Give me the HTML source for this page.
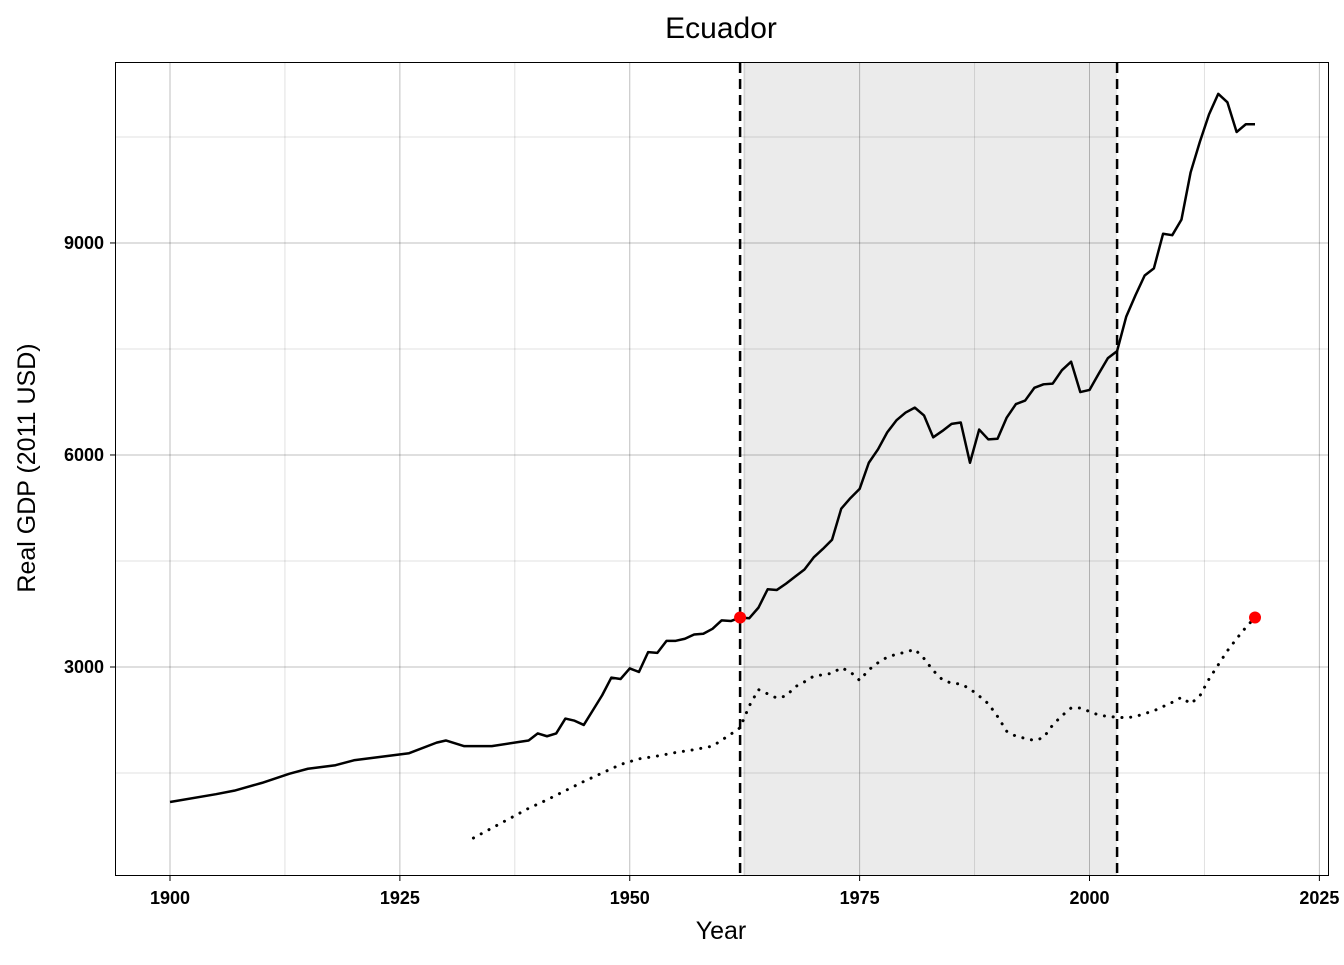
<!DOCTYPE html>
<html><head><meta charset="utf-8"><style>
body{margin:0;background:#fff;font-family:"Liberation Sans",Arial,sans-serif}
svg text{font-family:"Liberation Sans",Arial,sans-serif}
</style></head><body>
<svg id="chart" width="1344" height="960" xmlns="http://www.w3.org/2000/svg">
<rect width="1344" height="960" fill="#fff"/>
<text x="721" y="38" font-size="30" text-anchor="middle">Ecuador</text>
<g id="grid"></g><g id="marks"></g>
<rect x="115.5" y="62.5" width="1213" height="813" fill="none" stroke="#000" stroke-width="1"/>
<g id="axes"></g>
<text x="721" y="939" font-size="25" text-anchor="middle">Year</text>
<text transform="translate(35,468) rotate(-90)" font-size="25" text-anchor="middle">Real GDP (2011 USD)</text>
</svg>
<script>
const years=[1900,1905,1907,1910,1913,1915,1918,1920,1923,1926,1929,1930,1932,1935,1938,1939,1940,1941,1942,1943,1944,1945,1946,1947,1948,1949,1950,1951,1952,1953,1954,1955,1956,1957,1958,1959,1960,1961,1962,1963,1964,1965,1966,1967,1968,1969,1970,1971,1972,1973,1974,1975,1976,1977,1978,1979,1980,1981,1982,1983,1984,1985,1986,1987,1988,1989,1990,1991,1992,1993,1994,1995,1996,1997,1998,1999,2000,2001,2002,2003,2004,2005,2006,2007,2008,2009,2010,2011,2012,2013,2014,2015,2016,2017,2018];
const gdp=[1090,1200,1250,1360,1490,1560,1610,1680,1730,1780,1930,1960,1880,1880,1940,1960,2060,2020,2060,2270,2240,2180,2390,2600,2850,2830,2980,2930,3210,3200,3370,3370,3400,3460,3470,3540,3660,3650,3700,3690,3840,4100,4090,4180,4280,4380,4550,4670,4800,5240,5390,5520,5890,6080,6320,6490,6600,6670,6560,6250,6340,6440,6460,5890,6360,6220,6230,6530,6720,6770,6950,7000,7010,7200,7320,6890,6920,7150,7370,7470,7960,8260,8540,8640,9130,9110,9330,10000,10430,10820,11110,10990,10570,10680,10680];
const cfYears=[1933,1935,1937,1939,1941,1943,1945,1947,1949,1951,1953,1955,1957,1959,1961,1962,1963,1964,1965,1966,1967,1968,1969,1970,1971,1972,1973,1974,1975,1976,1977,1978,1979,1980,1981,1982,1983,1984,1985,1986,1987,1988,1989,1990,1991,1992,1993,1994,1995,1996,1997,1998,1999,2000,2001,2002,2003,2004,2005,2006,2007,2008,2009,2010,2011,2012,2013,2014,2015,2016,2017,2018];
const cfGdp=[580,720,860,1000,1120,1250,1380,1500,1620,1700,1740,1790,1830,1880,2050,2140,2450,2680,2620,2560,2590,2720,2790,2870,2890,2910,2990,2930,2810,2960,3060,3140,3180,3210,3250,3120,2950,2820,2770,2760,2690,2590,2480,2300,2090,2020,1990,1960,2000,2180,2310,2420,2420,2370,2320,2300,2290,2280,2300,2340,2380,2440,2500,2570,2480,2590,2830,3030,3230,3400,3560,3700];
const periodStart=1962, periodEnd=2003;
const pointYears=[1962,2018], pointVals=[3700,3700];
const xTicks=[1900,1925,1950,1975,2000,2025];
const yTicks=[3000,6000,9000];
const yMinor=[1500,4500,7500,10500];
const X=y=>170+(y-1900)*9.195;
const Y=v=>879-v*0.07067;
const NS='http://www.w3.org/2000/svg';
function mk(parent,tag,attrs){const e=document.createElementNS(NS,tag);for(const k in attrs)e.setAttribute(k,attrs[k]);document.getElementById(parent).appendChild(e);return e;}
let r=mk('grid','rect',{x:X(periodStart)+3,y:63,width:X(periodEnd)-X(periodStart)-3,height:812,fill:'#ebebeb'});


xTicks.forEach(t=>{const l=mk('grid','line',{x1:X(t),x2:X(t),y1:63,y2:875,stroke:'#000','stroke-opacity':0.25});


const m=mk('grid','line',{x1:X(t+12.5),x2:X(t+12.5),y1:63,y2:875,stroke:'#000','stroke-opacity':0.12});


const tk=mk('axes','line',{x1:X(t),x2:X(t),y1:876,y2:881,stroke:'#000'});


const tx=mk('axes','text',{x:X(t),y:904,'font-size':18,'font-weight':'bold','text-anchor':'middle'});tx.textContent=t;

});
yTicks.forEach(t=>{const l=mk('grid','line',{x1:116,x2:1328,y1:Y(t),y2:Y(t),stroke:'#000','stroke-opacity':0.25});


const tk=mk('axes','line',{x1:110,x2:115,y1:Y(t),y2:Y(t),stroke:'#000'});


const tx=mk('axes','text',{x:104,y:Y(t)+6,'font-size':18,'font-weight':'bold','text-anchor':'end'});tx.textContent=t;

});
yMinor.forEach(t=>{const l=mk('grid','line',{x1:116,x2:1328,y1:Y(t),y2:Y(t),stroke:'#000','stroke-opacity':0.12});

});
let p=mk('marks','polyline',{points:years.map((y,i)=>X(y)+','+Y(gdp[i])).join(' '),fill:'none',stroke:'#000','stroke-width':2.5,'stroke-linejoin':'round'});


let q=mk('marks','polyline',{points:cfYears.map((y,i)=>X(y)+','+Y(cfGdp[i])).join(' '),fill:'none',stroke:'#000','stroke-width':3,'stroke-dasharray':'0.1 8.7','stroke-linecap':'round'});


[periodStart,periodEnd].forEach(t=>{const l=mk('marks','line',{x1:X(t),x2:X(t),y1:63,y2:875,stroke:'#000','stroke-width':2.5,'stroke-dasharray':'10 6'});

});
pointYears.forEach((y,i)=>{const c=mk('marks','circle',{cx:X(y),cy:Y(pointVals[i]),r:6,fill:'#f00'});

});
</script>
</body></html>
